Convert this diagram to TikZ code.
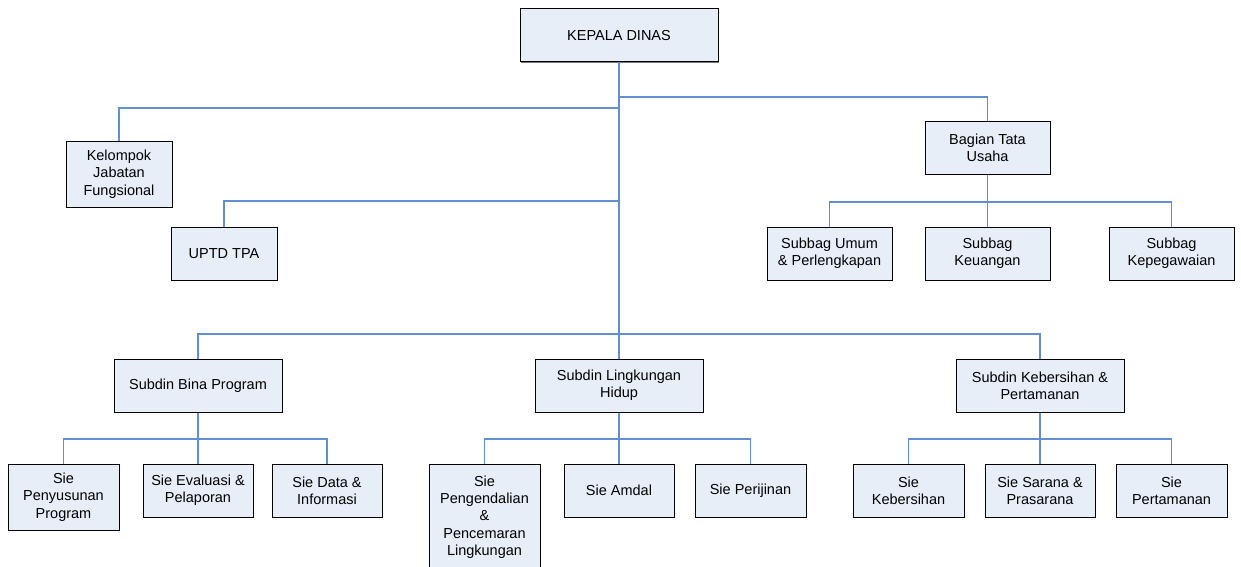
\documentclass[tikz,border=0pt]{standalone}
\usepackage{fontspec}
\setmainfont{Liberation Sans}
\usetikzlibrary{shadows}
\definecolor{boxfill}{RGB}{232,238,248}
\definecolor{linkblue}{RGB}{98,143,210}
\definecolor{shadowgray}{RGB}{120,120,120}
\tikzset{
  unit/.style={draw=black, line width=1pt, fill=boxfill, align=center,
    inner sep=0pt, font=\fontsize{14.5}{17.3}\selectfont,
    drop shadow={shadow xshift=1.2pt, shadow yshift=-1.2pt, fill=shadowgray, opacity=1}},
  link/.style={draw=linkblue, line width=1.1pt}
}
% place a box by its corners (x1,y1)-(x2,y2)
\newcommand{\orgbox}[6]{%
  \node[unit, minimum width={#4-#2}, minimum height={#5-#3}]
    (#1) at ({(#2+#4)/2},{(#3+#5)/2}) {#6};}
\begin{document}
\begin{tikzpicture}[x=1pt,y=-1pt]
\useasboundingbox (0,0) rectangle (1241,567);

% junction points on the main trunk
\coordinate (jB) at (619,97);
\coordinate (jK) at (619,108);
\coordinate (jU) at (619,201);
\coordinate (jS) at (619,334);
\coordinate (bT) at (987.5,202);
\coordinate (bP) at (198,439);
\coordinate (bL) at (619,439);
\coordinate (bK) at (1040,439);

% connectors first, boxes drawn over them
\path[link] (619,62) -- (619,359);

% boxes
\orgbox{kd}{520}{9}{718}{62}{KEPALA DINAS}
\orgbox{kjf}{66}{141}{172}{207}{Kelompok\\Jabatan\\Fungsional}
\orgbox{btu}{925}{122}{1050}{174}{Bagian Tata\\Usaha}
\orgbox{uptd}{171}{227}{277}{280}{UPTD TPA}
\orgbox{sb1}{767}{227}{892}{280}{Subbag Umum\\\& Perlengkapan}
\orgbox{sb2}{925}{227}{1050}{280}{Subbag\\Keuangan}
\orgbox{sb3}{1109}{227}{1234}{280}{Subbag\\Kepegawaian}

\orgbox{sbp}{114}{359}{282}{412}{Subdin Bina Program}
\orgbox{slh}{535}{359}{703}{412}{Subdin Lingkungan\\Hidup}
\orgbox{skp}{956}{359}{1124}{412}{Subdin Kebersihan \&\\Pertamanan}

\orgbox{p1}{8}{464}{119}{530}{Sie\\Penyusunan\\Program}
\orgbox{p2}{143}{464}{253}{517}{Sie Evaluasi \&\\Pelaporan}
\orgbox{p3}{272}{464}{382}{517}{Sie Data \&\\Informasi}

\orgbox{l1}{429}{464}{540}{570}{Sie\\Pengendalian\\\&\\Pencemaran\\Lingkungan}
\orgbox{l2}{564}{464}{674}{517}{Sie Amdal}
\orgbox{l3}{695}{464}{806}{517}{Sie Perijinan}

\orgbox{k1}{853}{464}{964}{517}{Sie\\Kebersihan}
\orgbox{k2}{985}{464}{1095}{517}{Sie Sarana \&\\Prasarana}
\orgbox{k3}{1116}{464}{1227}{517}{Sie\\Pertamanan}

% trunk from the head to the middle subdin
\draw[link] (kd.south) -- (slh.north);

% staff units branching off the trunk
\draw[link] (jK) -| (kjf.north);
\draw[link] (jB) -| (btu.north);
\draw[link] (jU) -| (uptd.north);

% subbag under Bagian Tata Usaha
\draw[link] (btu.south) -- (sb2.north);
\draw[link] (sb1.north) |- (bT) -| (sb3.north);

% subdin row
\draw[link] (sbp.north) |- (jS) -| (skp.north);

% sections under each subdin
\draw[link] (sbp.south) -- (p2.north);
\draw[link] (p1.north) |- (bP) -| (p3.north);
\draw[link] (slh.south) -- (l2.north);
\draw[link] (l1.north) |- (bL) -| (l3.north);
\draw[link] (skp.south) -- (k2.north);
\draw[link] (k1.north) |- (bK) -| (k3.north);
\end{tikzpicture}
\end{document}
